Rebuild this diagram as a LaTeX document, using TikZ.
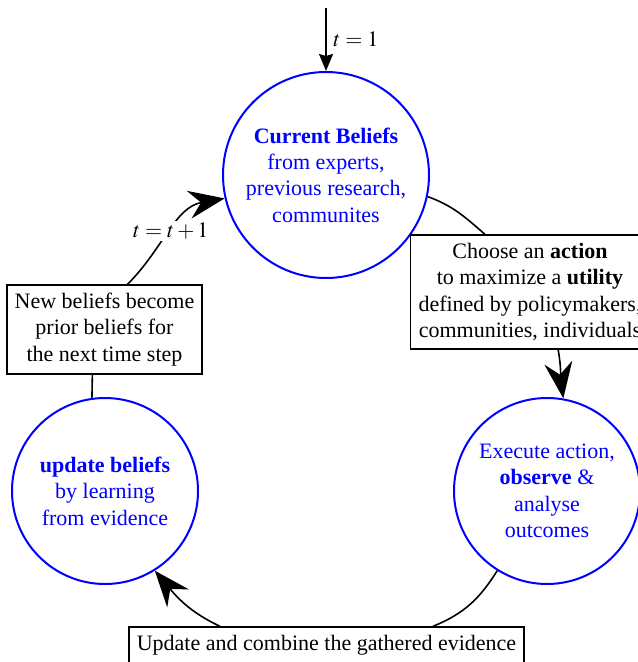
\documentclass[tikz,border=0pt]{standalone}
\usepackage{mathptmx}
\usepackage{fontspec}
\setmainfont{Liberation Serif}
\usetikzlibrary{arrows.meta}

\begin{document}
\begin{tikzpicture}[x=0.5pt, y=-0.5pt,
    font=\fontsize{11}{13.2}\selectfont,
    belief/.style={circle, draw=blue, line width=1pt, text=blue, align=center, inner sep=0pt},
    stepbox/.style={draw, line width=0.8pt, fill=white, align=center, inner sep=4pt},
    link/.style={line width=0.8pt},
    bigarrow/.style={-{Stealth[length=18pt, width=14pt, inset=6pt]}}]
    \useasboundingbox (0,0) rectangle (637,662);

    % --- THE THREE BELIEF STATES ---
    \node[belief, minimum size=103pt] (current) at (326,175)
        {\textbf{Current Beliefs}\\from experts,\\previous research,\\communites};
    \node[belief, minimum size=93pt] (execute) at (547,491)
        {Execute action,\\\textbf{observe} \&\\analyse\\outcomes};
    \node[belief, minimum size=93pt] (update) at (105,491)
        {\textbf{update beliefs}\\by learning\\from evidence};

    % --- STEP BOXES ---
    \node[stepbox] (action) at (530,292)
        {Choose an \textbf{action}\\to maximize a \textbf{utility}\\defined by policymakers,\\communities, individuals};
    \node[stepbox] (evidence) at (326.5,645) {Update and combine the gathered evidence};
    \node[stepbox] (prior) at (104.5,329.5)
        {New beliefs become\\prior beliefs for\\the next time step};

    % Entry
    \coordinate (start) at (326,8);
    \draw[link, -{Stealth[length=8.5pt, width=7pt, inset=1pt]}] (start) -- node[right] (tone) {$t = 1$} (current);

    % --- THE CYCLE ---
    \draw[link] (current.-12) to[out=-20, in=139] (action.128);
    \draw[link, bigarrow] (action.-64) to[out=-80, in=98] (execute.80);
    \draw[link] (execute.238) to[out=238, in=22] (evidence.10);
    \draw[link, bigarrow] (evidence.170) to[out=155, in=-50] (update.302);
    \draw[link] (update.98) -- (prior.255);
    \draw[link, bigarrow] (prior.63) to[out=45, in=190]
        node[pos=0.5, fill=white, inner sep=1pt] (tstep) {$t = t + 1$} (current.193);
\end{tikzpicture}
\end{document}
